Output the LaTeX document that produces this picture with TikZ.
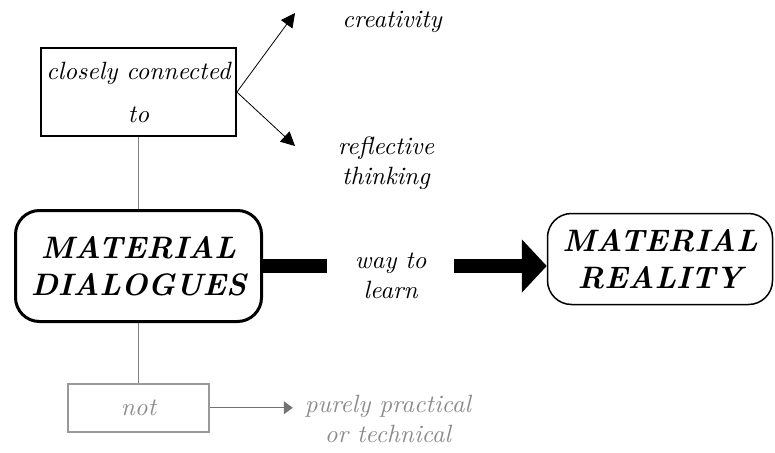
\documentclass[tikz,border=0pt]{standalone}
\usepackage{fontspec}
\setmainfont{lmroman10-regular.otf}[
    ItalicFont=lmroman10-italic.otf,
    BoldFont=lmroman10-bold.otf,
    BoldItalicFont=lmroman10-bolditalic.otf]
\usetikzlibrary{positioning}
\usetikzlibrary{arrows.meta}

\begin{document}
\begin{tikzpicture}[
    x=1pt, y=-1pt,
    lbl/.style={font=\fontsize{25}{30}\selectfont\itshape, align=center, inner sep=0},
    bigbox/.style={draw, rounded corners=24pt, align=center, inner sep=0,
        font=\fontsize{31}{37}\selectfont\bfseries\itshape},
    tbox/.style={draw, line width=1.8pt, inner sep=0, align=center,
        font=\fontsize{25}{30}\selectfont\itshape},
    gbox/.style={tbox, draw=black!40, line width=1.5pt, text=black!45},
    gedge/.style={draw=black!50, line width=1pt},
    tedge/.style={-{Triangle[length=14pt, width=14pt]}, line width=0.8pt},
    bedge/.style={line width=14pt}
]
\useasboundingbox (0,0) rectangle (775,452);

% main nodes
\node[bigbox, line width=3pt, minimum width=246pt, minimum height=111pt] (md) at (138.5,266) {MATERIAL\\DIALOGUES};
\node[bigbox, line width=1.5pt, minimum width=225pt, minimum height=91pt] (mr) at (660,259) {MATERIAL\\REALITY};

% closely connected to
\node[tbox, minimum width=195pt, minimum height=88pt, above=72pt of md] (cct) {closely connected\\[13pt]to};
\draw[gedge] (cct.south) -- (md.north);
\node[lbl] (crea) at (392,22) {creativity};
\node[lbl] (refl) at (386,163) {reflective\\thinking};
\coordinate (creatip) at (295,13);
\coordinate (refltip) at (295,146);
\draw[tedge] (cct.east) -- (creatip);
\draw[tedge] (cct.east) -- (refltip);

% way to learn
\node[lbl, minimum width=127pt, right=64pt of md, yshift=-10pt] (wl) {way to\\learn};
\draw[bedge] (md.east) -- (md.east -| wl.west);
\draw[bedge, -{Triangle[length=25pt, width=52pt]}] (wl.east |- md.east) -- (mr.west |- md.east);

% not
\node[gbox, minimum width=141pt, minimum height=48pt, below=60pt of md] (notb) {not};
\draw[gedge] (md.south) -- (notb.north);
\node[lbl, text=black!45] (pp) at (388,419) {purely practical\\or technical};
\coordinate[right=83pt of notb.east] (pptip);
\draw[gedge, draw=black!55, -{Triangle[length=9pt, width=13pt]}] (notb.east) -- (pptip);

\end{tikzpicture}
\end{document}
